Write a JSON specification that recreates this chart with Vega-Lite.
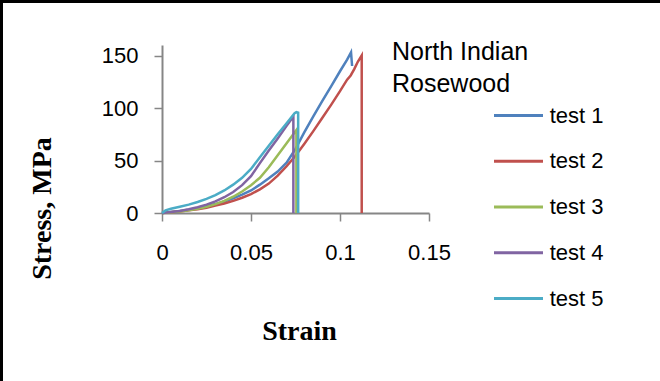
{
  "$schema": "https://vega.github.io/schema/vega-lite/v6.json",
  "width": 660,
  "height": 381,
  "autosize": "none",
  "padding": 0,
  "background": "white",
  "config": {
    "view": {"stroke": "black", "strokeWidth": 6, "strokeDash": [660, 1041, 381, 1], "fill": "white"},
    "font": "Liberation Sans"
  },
  "data": {
    "values": [
      {"t":"test 1","i":0,"x":0,"y":0},{"t":"test 1","i":1,"x":0.005,"y":1},{"t":"test 1","i":2,"x":0.01,"y":2},{"t":"test 1","i":3,"x":0.015,"y":3},{"t":"test 1","i":4,"x":0.02,"y":4.5},{"t":"test 1","i":5,"x":0.025,"y":6.5},{"t":"test 1","i":6,"x":0.03,"y":8.5},{"t":"test 1","i":7,"x":0.035,"y":11},{"t":"test 1","i":8,"x":0.04,"y":14},{"t":"test 1","i":9,"x":0.045,"y":17.5},{"t":"test 1","i":10,"x":0.05,"y":21.5},{"t":"test 1","i":11,"x":0.055,"y":27},{"t":"test 1","i":12,"x":0.06,"y":33},{"t":"test 1","i":13,"x":0.065,"y":39.5},{"t":"test 1","i":14,"x":0.07,"y":48},{"t":"test 1","i":15,"x":0.075,"y":61},{"t":"test 1","i":16,"x":0.08,"y":77},{"t":"test 1","i":17,"x":0.085,"y":92},{"t":"test 1","i":18,"x":0.09,"y":106.5},{"t":"test 1","i":19,"x":0.095,"y":120.5},{"t":"test 1","i":20,"x":0.1,"y":135},{"t":"test 1","i":21,"x":0.104,"y":146},{"t":"test 1","i":22,"x":0.1062,"y":153},{"t":"test 1","i":23,"x":0.1068,"y":140},
      {"t":"test 2","i":0,"x":0,"y":0},{"t":"test 2","i":1,"x":0.005,"y":0.8},{"t":"test 2","i":2,"x":0.01,"y":1.5},{"t":"test 2","i":3,"x":0.015,"y":2.5},{"t":"test 2","i":4,"x":0.02,"y":3.5},{"t":"test 2","i":5,"x":0.025,"y":5},{"t":"test 2","i":6,"x":0.03,"y":7},{"t":"test 2","i":7,"x":0.035,"y":9},{"t":"test 2","i":8,"x":0.04,"y":11.5},{"t":"test 2","i":9,"x":0.045,"y":14.5},{"t":"test 2","i":10,"x":0.05,"y":18},{"t":"test 2","i":11,"x":0.055,"y":22.5},{"t":"test 2","i":12,"x":0.06,"y":28},{"t":"test 2","i":13,"x":0.065,"y":35.5},{"t":"test 2","i":14,"x":0.07,"y":44.5},{"t":"test 2","i":15,"x":0.075,"y":54.5},{"t":"test 2","i":16,"x":0.08,"y":66},{"t":"test 2","i":17,"x":0.085,"y":78},{"t":"test 2","i":18,"x":0.09,"y":90.5},{"t":"test 2","i":19,"x":0.095,"y":103},{"t":"test 2","i":20,"x":0.1,"y":116},{"t":"test 2","i":21,"x":0.104,"y":127},{"t":"test 2","i":22,"x":0.106,"y":131},{"t":"test 2","i":23,"x":0.108,"y":137},{"t":"test 2","i":24,"x":0.11,"y":144},{"t":"test 2","i":25,"x":0.1122,"y":150},{"t":"test 2","i":26,"x":0.1122,"y":0},
      {"t":"test 3","i":0,"x":0,"y":0},{"t":"test 3","i":1,"x":0.005,"y":0.7},{"t":"test 3","i":2,"x":0.01,"y":1.5},{"t":"test 3","i":3,"x":0.015,"y":2.7},{"t":"test 3","i":4,"x":0.02,"y":4},{"t":"test 3","i":5,"x":0.025,"y":6},{"t":"test 3","i":6,"x":0.03,"y":8.5},{"t":"test 3","i":7,"x":0.035,"y":11.5},{"t":"test 3","i":8,"x":0.04,"y":15.5},{"t":"test 3","i":9,"x":0.045,"y":20.5},{"t":"test 3","i":10,"x":0.05,"y":26.5},{"t":"test 3","i":11,"x":0.055,"y":33.5},{"t":"test 3","i":12,"x":0.06,"y":43.5},{"t":"test 3","i":13,"x":0.065,"y":55},{"t":"test 3","i":14,"x":0.07,"y":66.5},{"t":"test 3","i":15,"x":0.0755,"y":79},{"t":"test 3","i":16,"x":0.0755,"y":0},
      {"t":"test 4","i":0,"x":0,"y":0},{"t":"test 4","i":1,"x":0.005,"y":1},{"t":"test 4","i":2,"x":0.01,"y":2},{"t":"test 4","i":3,"x":0.015,"y":3.5},{"t":"test 4","i":4,"x":0.02,"y":5.5},{"t":"test 4","i":5,"x":0.025,"y":8},{"t":"test 4","i":6,"x":0.03,"y":11},{"t":"test 4","i":7,"x":0.035,"y":15},{"t":"test 4","i":8,"x":0.04,"y":20},{"t":"test 4","i":9,"x":0.045,"y":26.5},{"t":"test 4","i":10,"x":0.05,"y":35},{"t":"test 4","i":11,"x":0.055,"y":47.5},{"t":"test 4","i":12,"x":0.06,"y":59.5},{"t":"test 4","i":13,"x":0.065,"y":71},{"t":"test 4","i":14,"x":0.07,"y":83},{"t":"test 4","i":15,"x":0.0738,"y":92},{"t":"test 4","i":16,"x":0.0738,"y":0},
      {"t":"test 5","i":0,"x":0,"y":0},{"t":"test 5","i":1,"x":0.002,"y":2.5},{"t":"test 5","i":2,"x":0.005,"y":4},{"t":"test 5","i":3,"x":0.01,"y":6},{"t":"test 5","i":4,"x":0.015,"y":8},{"t":"test 5","i":5,"x":0.02,"y":10.5},{"t":"test 5","i":6,"x":0.025,"y":13.5},{"t":"test 5","i":7,"x":0.03,"y":17},{"t":"test 5","i":8,"x":0.035,"y":21.5},{"t":"test 5","i":9,"x":0.04,"y":27},{"t":"test 5","i":10,"x":0.045,"y":33.5},{"t":"test 5","i":11,"x":0.05,"y":42},{"t":"test 5","i":12,"x":0.055,"y":53},{"t":"test 5","i":13,"x":0.06,"y":64},{"t":"test 5","i":14,"x":0.065,"y":75},{"t":"test 5","i":15,"x":0.07,"y":85.5},{"t":"test 5","i":16,"x":0.0745,"y":95},{"t":"test 5","i":17,"x":0.0755,"y":96},{"t":"test 5","i":18,"x":0.0765,"y":95.5},{"t":"test 5","i":19,"x":0.0765,"y":0}
    ]
  },
  "mark": {"type": "line", "strokeWidth": 2.5},
  "encoding": {
    "x": {
      "field": "x", "type": "quantitative",
      "scale": {"domain": [0, 0.15], "range": [162, 429], "nice": false, "zero": false},
      "axis": {
        "title": "Strain", "values": [0, 0.05, 0.1, 0.15], "format": ".2~f", "grid": false,
        "offset": -168,
        "domainColor": "#868686", "domainWidth": 2, "tickColor": "#868686", "tickWidth": 1.5, "tickSize": 8,
        "labelFont": "Liberation Sans", "labelFontSize": 22, "labelColor": "black", "labelPadding": 21, "labelFlush": false,
        "titleFont": "Liberation Serif", "titleFontSize": 28, "titleFontWeight": "bold", "titleColor": "black",
        "titleX": 299, "titleY": 126, "titleBaseline": "alphabetic", "titleAlign": "center", "titleAnchor": null
      }
    },
    "y": {
      "field": "y", "type": "quantitative",
      "scale": {"domain": [0, 160], "range": [213, 45], "nice": false},
      "axis": {
        "title": "Stress, MPa", "values": [0, 50, 100, 150], "grid": false,
        "offset": -162,
        "domainColor": "#868686", "domainWidth": 2, "tickColor": "#868686", "tickWidth": 1.5, "tickSize": 8,
        "labelFont": "Liberation Sans", "labelFontSize": 22, "labelColor": "black", "labelPadding": 16, "labelFlush": false,
        "titleFont": "Liberation Serif", "titleFontSize": 28, "titleFontWeight": "bold", "titleColor": "black",
        "titleAngle": 270, "titleX": -112, "titleY": 208, "titleBaseline": "alphabetic", "titleAlign": "center"
      }
    },
    "color": {
      "field": "t", "type": "nominal",
      "scale": {"domain": ["test 1", "test 2", "test 3", "test 4", "test 5"], "range": ["#4F81BD", "#C0504D", "#9BBB59", "#8064A2", "#4BACC6"]},
      "legend": {
        "title": ["North Indian", "Rosewood"],
        "orient": "none", "legendX": 392, "legendY": 39.5, "padding": 0,
        "titleFont": "Liberation Sans", "titleFontSize": 25, "titleFontWeight": "normal", "titleColor": "black", "titleLineHeight": 32, "titlePadding": 5, "titleLimit": 400,
        "labelFont": "Liberation Sans", "labelFontSize": 22, "labelColor": "black", "labelOffset": 17.25,
        "symbolType": "M-2,0H2", "symbolSize": 600, "symbolStrokeWidth": 3, "symbolOffset": 112.5,
        "rowPadding": 20.75
      }
    },
    "order": {"field": "i", "type": "quantitative"}
  }
}
